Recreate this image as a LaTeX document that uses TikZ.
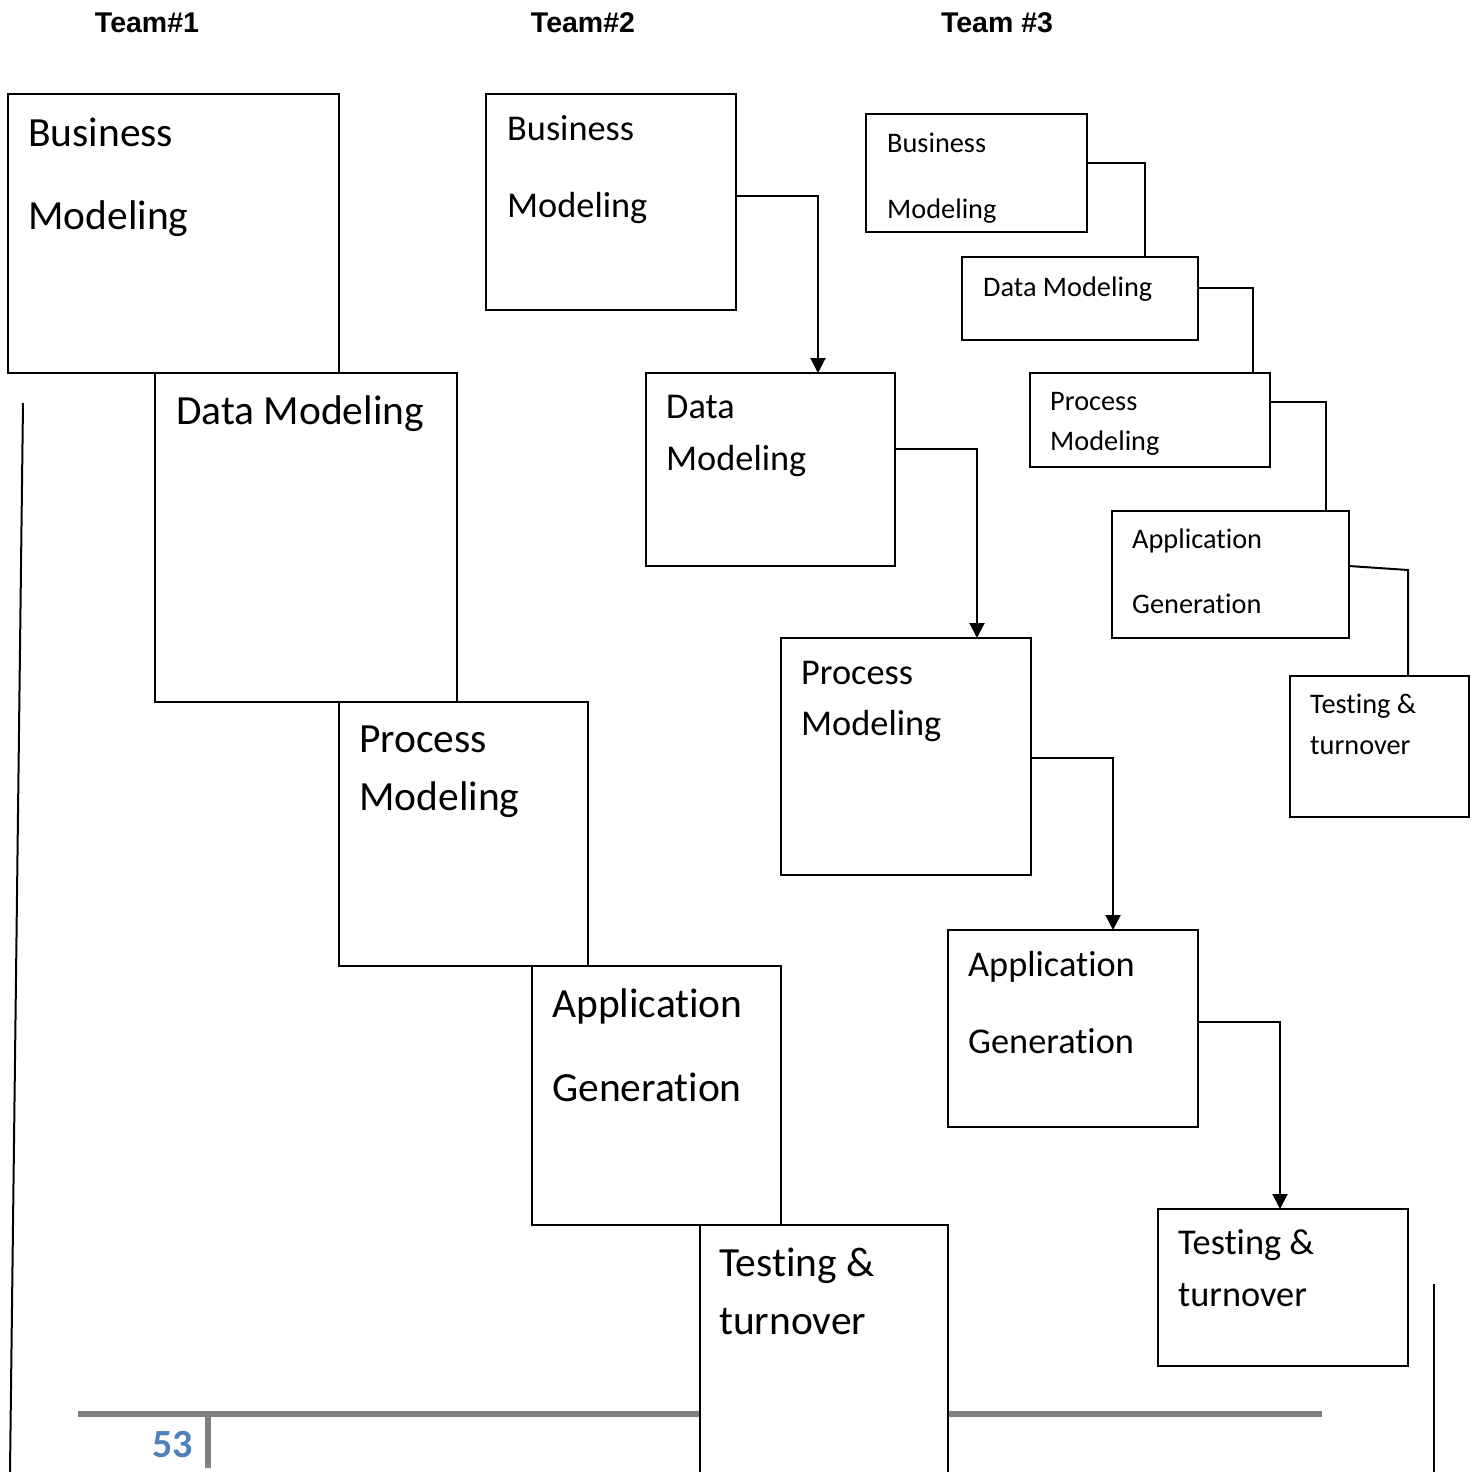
\documentclass[tikz,border=0pt]{standalone}
\usepackage{fontspec}
\setmainfont[Ligatures={NoCommon}]{Carlito}
\newfontfamily\pagefont{Carlito Bold}
\newfontfamily\headfont{Liberation Sans}
\usetikzlibrary{arrows.meta}
\definecolor{pageblue}{RGB}{79,129,189}
\begin{document}
\begin{tikzpicture}[x=1pt,y=-1pt,
  box/.style={draw=black,fill=white,line width=2pt,inner sep=0pt,outer sep=0pt,anchor=north west},
  lbl/.style={anchor=base west,inner sep=0pt,text=black},
  big/.style={lbl,font=\fontsize{41.5}{41.5}\selectfont},
  mid/.style={lbl,font=\fontsize{36.3}{36.3}\selectfont},
  small/.style={lbl,font=\fontsize{28.3}{28.3}\selectfont},
  head/.style={anchor=base,inner sep=0pt,font=\headfont\bfseries\fontsize{28.5}{28.5}\selectfont},
  link/.style={line width=2pt,draw=black},
  flow/.style={link,-{Triangle[width=15pt,length=15pt]}}]
\useasboundingbox (0,0) rectangle (1470,1472);

% team headings
\node[head] (h1) at (147,33) {Team\#1};
\node[head] (h2) at (583,33) {Team\#2};
\node[head] (h3) at (997,33) {Team \#3};

% page footer
\draw[gray,line width=5.5pt] (78,1414) -- (1322,1414);
\draw[gray,line width=5.5pt] (208,1414) -- (208,1468);
\node[anchor=base east,inner sep=0pt,text=pageblue,font=\pagefont\fontsize{40}{40}\selectfont] (pg) at (193,1457) {53};

% margin rules
\draw[line width=2pt] (23,403) -- (10,1472);
\draw[line width=1.5pt] (1434,1284) -- (1434,1472);

% ---- team 1: stacked waterfall ----
\node[box,minimum width=331pt,minimum height=279pt] (bm1) at (8,94) {};
\node[box,minimum width=302pt,minimum height=329pt] (dm1) at (155,373) {};
\node[box,minimum width=249pt,minimum height=264pt] (pm1) at (339,702) {};
\node[box,minimum width=249pt,minimum height=259pt] (ag1) at (532,966) {};
\node[box,minimum width=248pt,minimum height=270pt] (tt1) at (700,1225) {};
\node[big] (bm1a) at (28,146) {Business};
\node[big] (bm1b) at (28,229) {Modeling};
\node[big] (dm1a) at (176,424) {Data Modeling};
\node[big] (pm1a) at (359,752) {Process};
\node[big] (pm1b) at (359,810) {Modeling};
\node[big] (ag1a) at (552,1017) {Application};
\node[big] (ag1b) at (552,1101) {Generation};
\node[big] (tt1a) at (719,1276) {Testing \&};
\node[big] (tt1b) at (719,1334) {turnover};

% ---- team 2: separated phases with arrows ----
\node[box,minimum width=250pt,minimum height=216pt] (bm2) at (486,94) {};
\node[box,minimum width=249pt,minimum height=193pt] (dm2) at (646,373) {};
\node[box,minimum width=250pt,minimum height=237pt] (pm2) at (781,638) {};
\node[box,minimum width=250pt,minimum height=197pt] (ag2) at (948,930) {};
\node[box,minimum width=250pt,minimum height=157pt] (tt2) at (1158,1209) {};
\node[mid] (bm2a) at (507,140) {Business};
\node[mid] (bm2b) at (507,217) {Modeling};
\node[mid] (dm2a) at (666,418) {Data};
\node[mid] (dm2b) at (666,470) {Modeling};
\node[mid] (pm2a) at (801,684) {Process};
\node[mid] (pm2b) at (801,735) {Modeling};
\node[mid] (ag2a) at (968,976) {Application};
\node[mid] (ag2b) at (968,1053) {Generation};
\node[mid] (tt2a) at (1178,1254) {Testing \&};
\node[mid] (tt2b) at (1178,1306) {turnover};
\draw[flow] ([yshift=-102pt]bm2.north east) -| ([xshift=172pt]dm2.north west);
\draw[flow] ([yshift=-76pt]dm2.north east) -| ([xshift=196pt]pm2.north west);
\draw[flow] ([yshift=-120pt]pm2.north east) -| ([xshift=165pt]ag2.north west);
\draw[flow] ([yshift=-92pt]ag2.north east) -| ([xshift=122pt]tt2.north west);

% ---- team 3: compact chain ----
\node[box,minimum width=221pt,minimum height=118pt] (bm3) at (866,114) {};
\node[box,minimum width=236pt,minimum height=83pt] (dm3) at (962,257) {};
\node[box,minimum width=240pt,minimum height=94pt] (pm3) at (1030,373) {};
\node[box,minimum width=237pt,minimum height=127pt] (ag3) at (1112,511) {};
\node[box,minimum width=179pt,minimum height=141pt] (tt3) at (1290,676) {};
\node[small] (bm3a) at (887,152) {Business};
\node[small] (bm3b) at (887,218) {Modeling};
\node[small] (dm3a) at (983,296) {Data Modeling};
\node[small] (pm3a) at (1050,410) {Process};
\node[small] (pm3b) at (1050,450) {Modeling};
\node[small] (ag3a) at (1132,548) {Application};
\node[small] (ag3b) at (1132,613) {Generation};
\node[small] (tt3a) at (1310,713) {Testing \&};
\node[small] (tt3b) at (1310,754) {turnover};
\draw[link] ([yshift=-49pt]bm3.north east) -| ([xshift=183pt]dm3.north west);
\draw[link] ([yshift=-31pt]dm3.north east) -| ([xshift=223pt]pm3.north west);
\draw[link] ([yshift=-29pt]pm3.north east) -| ([xshift=214pt]ag3.north west);
\draw[link] ([yshift=-55pt]ag3.north east) -- ++(59,4) -- ([xshift=118pt]tt3.north west);
\end{tikzpicture}
\end{document}
